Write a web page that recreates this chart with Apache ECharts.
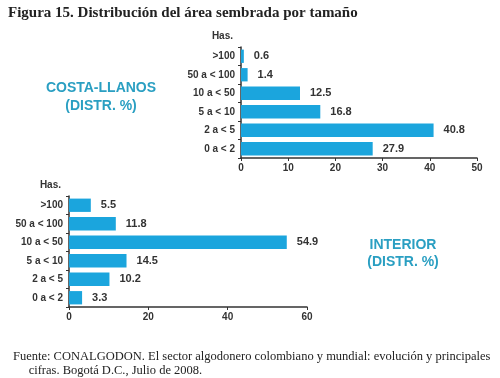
<!DOCTYPE html>
<html><head><meta charset="utf-8">
<script src="https://cdn.jsdelivr.net/npm/echarts@6/dist/echarts.min.js"></script>
<style>html,body{margin:0;padding:0;background:#fff}#c{width:500px;height:378px}</style>
</head><body><div id="c"></div>
<script>
const categories = ['0 a < 2', '2 a < 5', '5 a < 10', '10 a < 50', '50 a < 100', '>100'];
const costaValues = [27.9, 40.8, 16.8, 12.5, 1.4, 0.6];
const interiorValues = [3.3, 10.2, 14.5, 54.9, 11.8, 5.5];
const costaTicks = [0, 10, 20, 30, 40, 50];
const interiorTicks = [0, 20, 40, 60];

const barColor = '#1ba5dd';
const axisCol = '#333';
const lblFont = {fontFamily: 'Liberation Sans, Arial', fontWeight: 'bold', fontSize: 10, color: '#333'};

function xAx(gi, max, interval) {
  return {gridIndex: gi, type: 'value', min: 0, max: max, interval: interval,
    splitLine: {show: false},
    axisLine: {show: true, lineStyle: {color: axisCol, width: 1.5}},
    axisTick: {show: true, length: 3, lineStyle: {color: axisCol}},
    axisLabel: Object.assign({margin: 5}, lblFont)};
}
function yAx(gi) {
  return {gridIndex: gi, type: 'category', data: categories,
    name: 'Has.', nameLocation: 'end', nameGap: 6,
    nameTextStyle: Object.assign({align: 'right', padding: [0, 8, 0, 0]}, lblFont),
    axisLine: {show: true, lineStyle: {color: axisCol, width: 1.5}},
    axisTick: {show: true, length: 3, lineStyle: {color: axisCol}},
    axisLabel: Object.assign({margin: 6}, lblFont)};
}
function ser(i, vals) {
  return {type: 'bar', xAxisIndex: i, yAxisIndex: i, data: vals, barWidth: '72%',
    itemStyle: {color: barColor},
    label: {show: true, position: 'right', distance: 10,
      fontFamily: 'Liberation Sans, Arial', fontWeight: 'bold', fontSize: 11, color: '#333'},
    animation: false};
}

const chart = echarts.init(document.getElementById('c'));
chart.setOption({
  animation: false,
  backgroundColor: '#fff',
  title: [
    {text: 'Figura 15. Distribución del área sembrada por tamaño', left: 3, top: 1,
      textStyle: {fontFamily: 'Liberation Serif, serif', fontWeight: 'bold', fontSize: 15, color: '#222'}},
    {text: 'COSTA-LLANOS\n(DISTR. %)', left: 96, top: 74, textAlign: 'center',
      textStyle: {fontFamily: 'Liberation Sans, Arial', fontWeight: 'bold', fontSize: 14, lineHeight: 18, color: '#2a9fc2'}},
    {text: 'INTERIOR\n(DISTR. %)', left: 398, top: 232, textAlign: 'center',
      textStyle: {fontFamily: 'Liberation Sans, Arial', fontWeight: 'bold', fontSize: 14, lineHeight: 17, color: '#2a9fc2'}},
    {text: 'Fuente: CONALGODON. El sector algodonero colombiano y mundial: evolución y principales\n     cifras. Bogotá D.C., Julio de 2008.',
      left: 8, top: 345,
      textStyle: {fontFamily: 'Liberation Serif, serif', fontWeight: 'normal', fontSize: 12.5, lineHeight: 14, color: '#222'}}
  ],
  grid: [
    {left: 241, right: 23, top: 47, height: 111},
    {left: 69, right: 193, top: 196, height: 111}
  ],
  xAxis: [xAx(0, costaTicks[costaTicks.length-1], 10), xAx(1, interiorTicks[interiorTicks.length-1], 20)],
  yAxis: [yAx(0), yAx(1)],
  series: [ser(0, costaValues), ser(1, interiorValues)]
});
</script></body></html>
